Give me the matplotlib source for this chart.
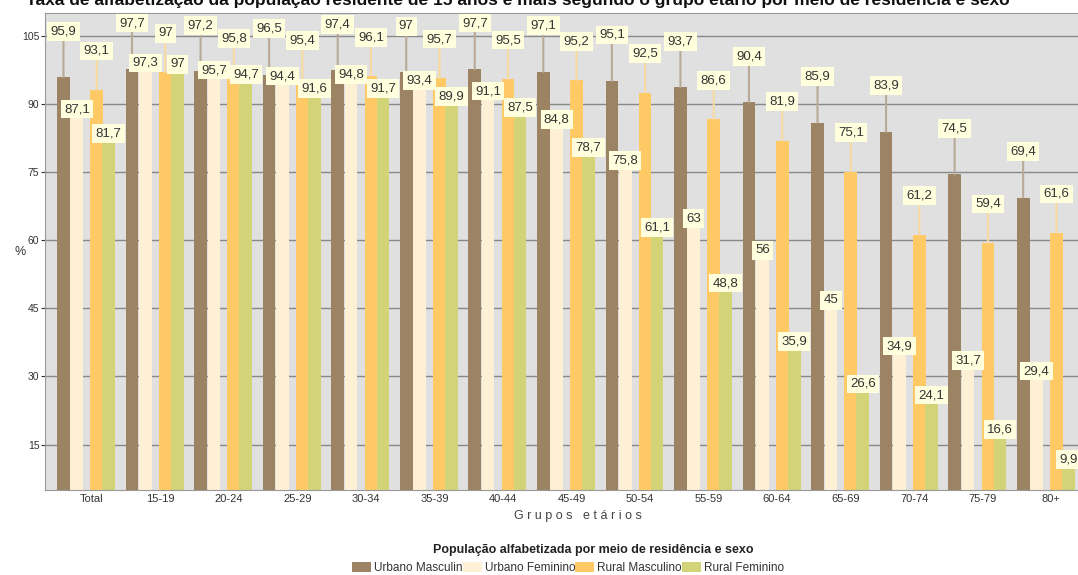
import numpy as np
import matplotlib
matplotlib.use("Agg")
import matplotlib.pyplot as plt
from matplotlib.patches import Patch

plt.rcParams['font.family'] = ['Liberation Sans', 'DejaVu Sans']

# data
grupos = ['Total', '15-19', '20-24', '25-29', '30-34', '35-39', '40-44', '45-49',
          '50-54', '55-59', '60-64', '65-69', '70-74', '75-79', '80+']
urbano_masc = [95.9, 97.7, 97.2, 96.5, 97.4, 97, 97.7, 97.1, 95.1, 93.7, 90.4, 85.9, 83.9, 74.5, 69.4]
urbano_fem = [87.1, 97.3, 95.7, 94.4, 94.8, 93.4, 91.1, 84.8, 75.8, 63, 56, 45, 34.9, 31.7, 29.4]
rural_masc = [93.1, 97, 95.8, 95.4, 96.1, 95.7, 95.5, 95.2, 92.5, 86.6, 81.9, 75.1, 61.2, 59.4, 61.6]
rural_fem = [81.7, 97, 94.7, 91.6, 91.7, 89.9, 87.5, 78.7, 61.1, 48.8, 35.9, 26.6, 24.1, 16.6, 9.9]
series_names = ['Urbano Masculin', 'Urbano Feminino', 'Rural Masculino', 'Rural Feminino']

series = [urbano_masc, urbano_fem, rural_masc, rural_fem]
colors = ['#9c8363', '#fef0d5', '#ffc966', '#d3d378']
line_colors = ['#b9aa98', '#fef0d5', '#f8d9a0', '#d3d378']
offsets = [-0.33, -0.135, 0.155, 0.33]
label_up = [46, 8, 39, 8]
width = 0.185

fig = plt.figure(figsize=(10.78, 5.75), dpi=100)
ax = fig.add_axes([0.0417, 0.148, 0.9583, 0.829])
ax.set_facecolor('#e0e0e0')

x = np.arange(len(grupos))
for s, vals in enumerate(series):
    ax.bar(x + offsets[s], vals, width, color=colors[s], zorder=2)

for s, vals in enumerate(series):
    for j, v in enumerate(vals):
        txt = ('%g' % v).replace('.', ',')
        ax.annotate(txt, xy=(x[j] + offsets[s], v), xytext=(0, label_up[s]),
                    textcoords='offset pixels', ha='center', va='center',
                    fontsize=9.5, color='#333333', zorder=5,
                    bbox=dict(boxstyle='square,pad=0.25', fc='#ffffdd', ec='none'),
                    arrowprops=dict(arrowstyle='-', color=line_colors[s], lw=1.5,
                                    shrinkA=0, shrinkB=0))

ax.set_xlim(-0.6, 14.47)
ax.set_ylim(5, 110)
ax.set_yticks([15, 30, 45, 60, 75, 90, 105])
ax.yaxis.grid(True, color='#888888', lw=1, zorder=1)
ax.set_axisbelow(True)
ax.set_xticks(x + 0.08)
ax.set_xticklabels(grupos)
ax.tick_params(axis='x', length=0, labelsize=8, colors='#333333', pad=3)
ax.tick_params(axis='y', length=3, labelsize=7.5, colors='#333333', pad=1)
for side in ['left', 'bottom', 'top']:
    ax.spines[side].set_color('#999999')
ax.spines['right'].set_visible(False)
ax.set_ylabel('%', rotation=0, fontsize=9, color='#333333', va='center')
ax.yaxis.set_label_coords(-0.024, 0.5)
ax.set_xlabel('G r u p o s   e t á r i o s', fontsize=9, color='#444444')
ax.xaxis.set_label_coords(0.516, -0.042)

fig.text(0.48, 1.0, 'Taxa de alfabetização da população residente de 15 anos e mais segundo o grupo '
         'etário por meio de residência e sexo', ha='center', va='center',
         fontsize=12.5, fontweight='bold', color='#111111')

fig.text(0.55, 1 - 550 / 575, 'População alfabetizada por meio de residência e sexo',
         ha='center', va='center', fontsize=9, fontweight='bold', color='#222222')
handles = [Patch(facecolor=c) for c in colors]
fig.legend(handles, series_names, loc='center', bbox_to_anchor=(0.527, 1 - 568 / 575),
           ncol=4, frameon=False, fontsize=8.5, handlelength=1.6, handleheight=0.9,
           handletextpad=0.25, columnspacing=0.0, borderpad=0, labelcolor='#333333')

fig.savefig('out.png', dpi=100)
